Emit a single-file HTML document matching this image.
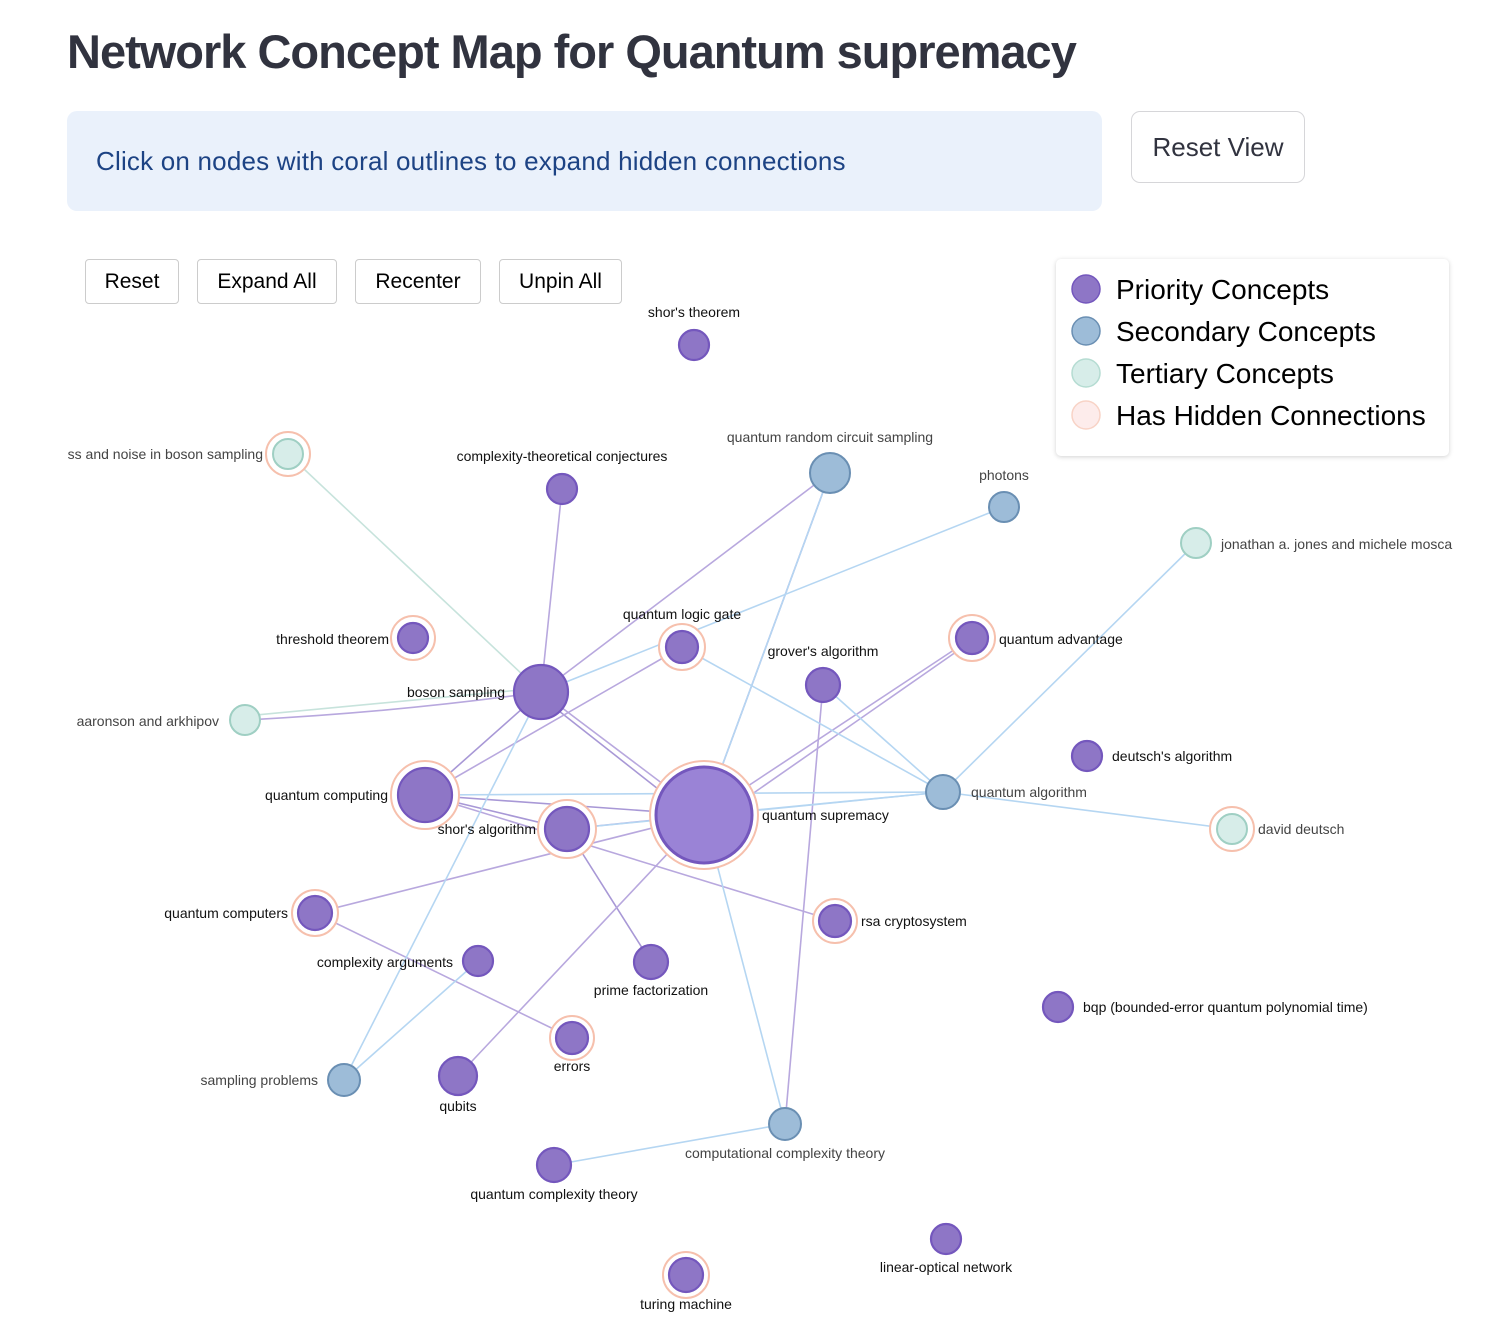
<!DOCTYPE html>
<html><head><meta charset="utf-8"><style>
body{margin:0;width:1486px;height:1324px;background:#fff;font-family:"Liberation Sans",sans-serif;position:relative;overflow:hidden}
.t{position:absolute;left:67px;top:24px;font-size:47px;font-weight:bold;color:#31333f;letter-spacing:-1px;white-space:nowrap}
.info{position:absolute;left:67px;top:111px;width:1035px;height:100px;background:#eaf1fb;border-radius:10px}
.info span{position:absolute;left:29px;top:35px;font-size:26px;color:#1d4384;letter-spacing:0.2px;white-space:nowrap}
.rv{position:absolute;left:1131px;top:111px;width:174px;height:72px;border:1px solid #d6d6d9;border-radius:9px;box-sizing:border-box;font-size:26px;color:#31333f;text-align:center;line-height:70px}
.b{position:absolute;top:259px;height:45px;border:1px solid #ccc;border-radius:4px;box-sizing:border-box;font-size:21px;text-align:center;line-height:43px;background:#fff}
.leg{position:absolute;left:1056px;top:259px;width:393px;height:197px;background:#fff;border-radius:5px;box-shadow:0 1px 5px rgba(0,0,0,.18)}
svg{position:absolute;left:0;top:0}
</style></head><body>
<div class="t">Network Concept Map for Quantum supremacy</div>
<div class="info"><span>Click on nodes with coral outlines to expand hidden connections</span></div>
<div class="rv">Reset View</div>
<div class="b" style="left:85px;width:94px">Reset</div>
<div class="b" style="left:197px;width:140px">Expand All</div>
<div class="b" style="left:355px;width:126px">Recenter</div>
<div class="b" style="left:499px;width:123px">Unpin All</div>
<svg width="1486" height="1324" font-family="Liberation Sans, sans-serif">
<g fill="none" stroke-width="1.6">
<g stroke="#c7e3dc"><line x1="288" y1="454" x2="541" y2="692"/><line x1="245" y1="716" x2="541" y2="688"/></g>
<g stroke="#b8a8de">
<line x1="541" y1="692" x2="562" y2="489"/><line x1="541" y1="692" x2="830" y2="473"/>
<path d="M245 720 Q400 712 541 692"/><line x1="541" y1="692" x2="704" y2="815"/>
<line x1="545" y1="700" x2="700" y2="822" stroke="#a898d6"/>
<line x1="541" y1="692" x2="425" y2="795" stroke="#a898d6"/>
<line x1="682" y1="647" x2="425" y2="795"/><line x1="830" y1="473" x2="704" y2="815" stroke="#a898d6"/>
<line x1="972" y1="638" x2="704" y2="815"/><line x1="966" y1="645" x2="712" y2="822"/>
<line x1="823" y1="685" x2="785" y2="1124"/>
<line x1="425" y1="795" x2="704" y2="815" stroke="#a898d6"/><line x1="425" y1="795" x2="567" y2="829" stroke="#a898d6"/>
<line x1="425" y1="795" x2="835" y2="921"/><line x1="567" y1="829" x2="704" y2="815"/>
<line x1="567" y1="829" x2="651" y2="962" stroke="#a898d6"/><line x1="704" y1="815" x2="315" y2="913"/>
<line x1="315" y1="913" x2="572" y2="1038"/><line x1="704" y1="815" x2="458" y2="1076"/>
</g>
<g stroke="#b5d6f2">
<line x1="541" y1="692" x2="344" y2="1080"/><line x1="541" y1="692" x2="1004" y2="507"/>
<line x1="682" y1="647" x2="943" y2="792"/><line x1="830" y1="473" x2="704" y2="815"/>
<line x1="823" y1="685" x2="943" y2="792"/><line x1="1196" y1="543" x2="943" y2="792"/>
<line x1="943" y1="792" x2="704" y2="815"/><line x1="943" y1="792" x2="1232" y2="829"/>
<line x1="425" y1="795" x2="943" y2="792"/><line x1="567" y1="829" x2="943" y2="792"/>
<line x1="478" y1="961" x2="344" y2="1080"/><line x1="704" y1="815" x2="785" y2="1124"/>
<line x1="785" y1="1124" x2="554" y2="1165"/>
</g>
</g>
<g stroke="#f6c0ad" stroke-width="2" fill="#fff">
<circle cx="288" cy="454" r="22"/><circle cx="413" cy="638" r="22"/><circle cx="682" cy="647" r="23"/>
<circle cx="972" cy="638" r="23"/><circle cx="425" cy="795" r="34"/><circle cx="704" cy="815" r="54"/>
<circle cx="567" cy="829" r="29"/><circle cx="1232" cy="829" r="22"/><circle cx="315" cy="913" r="23"/>
<circle cx="835" cy="921" r="22"/><circle cx="572" cy="1038" r="22"/><circle cx="686" cy="1275" r="23"/>
</g>
<g fill="#8e76c6" stroke="#7457bd" stroke-width="2.2">
<circle cx="694" cy="345" r="15"/><circle cx="562" cy="489" r="15"/><circle cx="413" cy="638" r="15"/>
<circle cx="682" cy="647" r="16"/><circle cx="972" cy="638" r="16"/><circle cx="823" cy="685" r="17"/>
<circle cx="541" cy="692" r="27"/><circle cx="1087" cy="756" r="15"/><circle cx="425" cy="795" r="27"/>
<circle cx="704" cy="815" r="48" fill="#9a83d6" stroke-width="3"/><circle cx="567" cy="829" r="22"/>
<circle cx="315" cy="913" r="17"/><circle cx="835" cy="921" r="16"/><circle cx="478" cy="961" r="15"/>
<circle cx="651" cy="962" r="17"/><circle cx="1058" cy="1007" r="15"/><circle cx="572" cy="1038" r="16"/>
<circle cx="458" cy="1076" r="19"/><circle cx="554" cy="1165" r="17"/><circle cx="946" cy="1239" r="15"/>
<circle cx="686" cy="1275" r="17"/>
</g>
<g fill="#9dbcd8" stroke="#6a8fb3" stroke-width="2">
<circle cx="830" cy="473" r="20"/><circle cx="1004" cy="507" r="15"/><circle cx="943" cy="792" r="17"/>
<circle cx="344" cy="1080" r="16"/><circle cx="785" cy="1124" r="16"/>
</g>
<g fill="#d7ede9" stroke="#9fcfc3" stroke-width="2">
<circle cx="288" cy="454" r="15"/><circle cx="1196" cy="543" r="15"/><circle cx="245" cy="720" r="15"/><circle cx="1232" cy="829" r="15"/>
</g>
<g font-size="14" fill="#111">
<text x="694" y="317" text-anchor="middle">shor's theorem</text>
<text x="263" y="459" text-anchor="end" fill="#444">ss and noise in boson sampling</text>
<text x="562" y="461" text-anchor="middle">complexity-theoretical conjectures</text>
<text x="830" y="442" text-anchor="middle" fill="#444">quantum random circuit sampling</text>
<text x="1004" y="480" text-anchor="middle" fill="#444">photons</text>
<text x="1221" y="549" fill="#444">jonathan a. jones and michele mosca</text>
<text x="389" y="644" text-anchor="end">threshold theorem</text>
<text x="682" y="619" text-anchor="middle">quantum logic gate</text>
<text x="999" y="644">quantum advantage</text>
<text x="823" y="656" text-anchor="middle">grover's algorithm</text>
<text x="505" y="697" text-anchor="end">boson sampling</text>
<text x="219" y="726" text-anchor="end" fill="#444">aaronson and arkhipov</text>
<text x="1112" y="761">deutsch's algorithm</text>
<text x="388" y="800" text-anchor="end">quantum computing</text>
<text x="971" y="797" fill="#444">quantum algorithm</text>
<text x="762" y="820">quantum supremacy</text>
<text x="536" y="834" text-anchor="end">shor's algorithm</text>
<text x="1258" y="834" fill="#444">david deutsch</text>
<text x="288" y="918" text-anchor="end">quantum computers</text>
<text x="861" y="926">rsa cryptosystem</text>
<text x="453" y="967" text-anchor="end">complexity arguments</text>
<text x="651" y="995" text-anchor="middle">prime factorization</text>
<text x="1083" y="1012">bqp (bounded-error quantum polynomial time)</text>
<text x="572" y="1071" text-anchor="middle">errors</text>
<text x="318" y="1085" text-anchor="end" fill="#444">sampling problems</text>
<text x="458" y="1111" text-anchor="middle">qubits</text>
<text x="785" y="1158" text-anchor="middle" fill="#444">computational complexity theory</text>
<text x="554" y="1199" text-anchor="middle">quantum complexity theory</text>
<text x="946" y="1272" text-anchor="middle">linear-optical network</text>
<text x="686" y="1309" text-anchor="middle">turing machine</text>
</g>
</svg>
<div class="leg">
<svg width="393" height="197" font-family="Liberation Sans, sans-serif" font-size="28">
<circle cx="30" cy="30" r="14" fill="#8e76c6" stroke="#7457bd" stroke-width="1.5"/><text x="60" y="40">Priority Concepts</text>
<circle cx="30" cy="72" r="14" fill="#9dbcd8" stroke="#6a8fb3" stroke-width="1.5"/><text x="60" y="82">Secondary Concepts</text>
<circle cx="30" cy="114" r="14" fill="#d7ede9" stroke="#b5dcd2" stroke-width="1.5"/><text x="60" y="124">Tertiary Concepts</text>
<circle cx="30" cy="156" r="14" fill="#fdeceb" stroke="#f8d3c6" stroke-width="1.5"/><text x="60" y="166">Has Hidden Connections</text>
</svg></div>
</body></html>
